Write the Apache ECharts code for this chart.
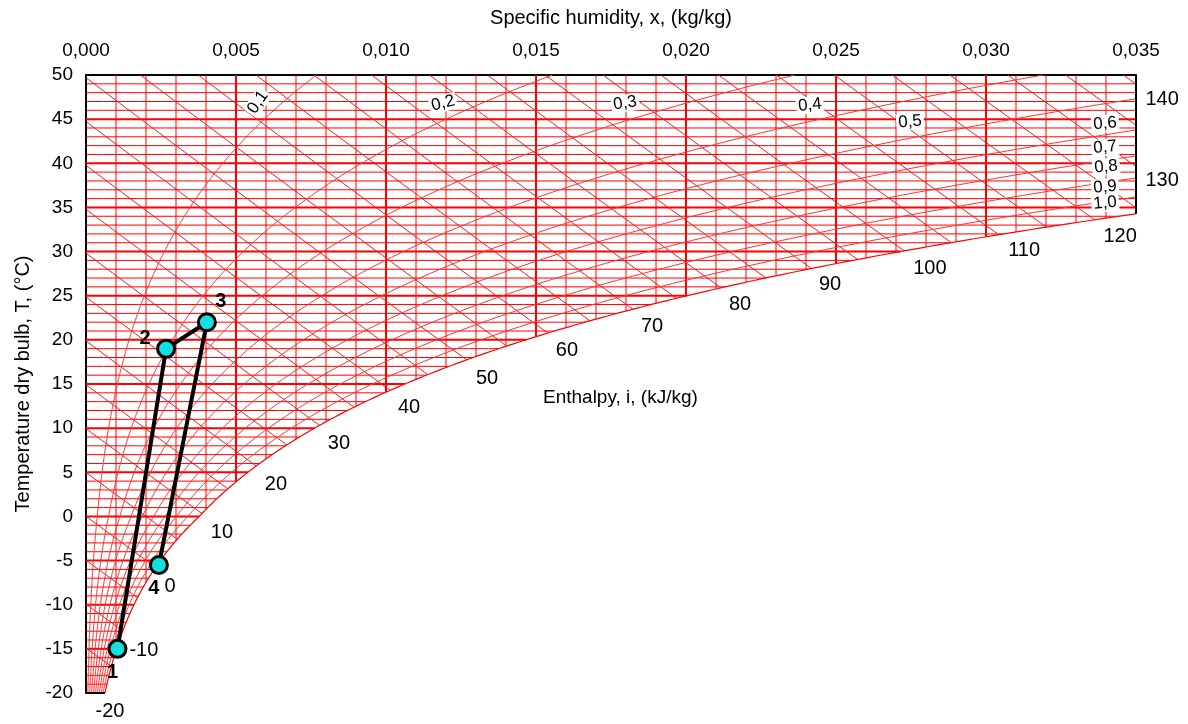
<!DOCTYPE html>
<html>
<head>
<meta charset="utf-8">
<title>Psychrometric chart</title>
<script src="https://cdn.jsdelivr.net/npm/echarts@6/dist/echarts.min.js"></script>
<style>
  html, body { margin: 0; padding: 0; background: #fff; }
  #chart { width: 1188px; height: 724px; }
</style>
</head>
<body>
<div id="chart"></div>
<script>
// axis ranges
var xMin = 0, xMax = 0.035, xStep = 0.005;
var tMin = -20, tMax = 50, tStep = 5;
var pressure = 101.325; // kPa

// cycle
var cycleNames = ['1', '2', '3', '4'];
var cycleX = [0.00105, 0.00267, 0.00403, 0.00243];
var cycleT = [-15, 19, 22, -5.5];

// relative humidity curves and their labels
var rhLevels = [0.1, 0.2, 0.3, 0.4, 0.5, 0.6, 0.7, 0.8, 0.9];
var rhLabels = ['0,1', '0,2', '0,3', '0,4', '0,5', '0,6', '0,7', '0,8', '0,9', '1,0'];
var rhLabelX = [0.00573, 0.01190, 0.01797, 0.02413, 0.02747, 0.03397, 0.03397, 0.03400, 0.03397, 0.03397];
var rhLabelT = [46.9, 46.8, 46.8, 46.6, 44.7, 44.5, 41.8, 39.6, 37.3, 35.5];
var rhLabelRot = [55, 14, 8, 6, 5, 5, 5, 5, 5, 5];

// enthalpy lines (kJ/kg) and labels
var enthalpyLevels = [];
for (var e = -20; e <= 140; e += 5) enthalpyLevels.push(e);
var enthalpyLabels = [-20, -10, 0, 10, 20, 30, 40, 50, 60, 70, 80, 90, 100, 110, 120, 130, 140];
var enthalpyLabelX = [0.0008, 0.00193, 0.0028, 0.00453, 0.00633, 0.00843, 0.01077, 0.01337, 0.01603, 0.01887, 0.0218, 0.0248, 0.02813, 0.03127, 0.03447, 0.03587, 0.03587];
var enthalpyLabelT = [-22.15, -15.13, -7.99, -1.87, 3.57, 8.21, 12.29, 15.68, 18.74, 21.46, 23.95, 26.22, 28.03, 30.07, 31.66, 38.0, 47.2];

var font = 'Liberation Sans, Arial, sans-serif';

// saturation pressure, kPa (water above 0, ice below)
function psat(T) {
  if (T >= 0) return 0.61094 * Math.exp(17.625 * T / (T + 243.04));
  return 0.61115 * Math.exp(22.452 * T / (272.55 + T));
}
function xRh(T, phi) {
  var pv = phi * psat(T);
  return 0.622 * pv / (pressure - pv);
}
function tEnthalpy(i, x) {
  return (i - 2501 * x) / (1.006 + 1.86 * x);
}
function inside(p) {
  return p[0] >= -1e-12 && p[0] <= xMax + 1e-12 && p[1] >= tMin - 1e-9 && p[1] <= tMax + 1e-9 && p[0] <= xRh(p[1], 1) + 1e-12;
}
// sample a curve and keep only the parts inside the chart area
function clipCurve(f, t0, t1, n) {
  var segs = [], cur = null, prevIn = false, prevT = t0;
  for (var k = 0; k <= n; k++) {
    var t = t0 + (t1 - t0) * k / n;
    var p = f(t), ins = inside(p);
    if (k > 0 && ins !== prevIn) {
      var a = prevT, b = t;
      for (var j = 0; j < 40; j++) {
        var m = (a + b) / 2;
        if (inside(f(m)) === prevIn) a = m; else b = m;
      }
      var edge = f(ins ? b : a);
      if (ins) {
        cur = [edge];
      } else {
        cur.push(edge);
        if (cur.length > 1) segs.push({ coords: cur });
        cur = null;
      }
    }
    if (ins) { if (!cur) cur = []; cur.push(p); }
    prevIn = ins; prevT = t;
  }
  if (cur && cur.length > 1) segs.push({ coords: cur });
  return segs;
}

var thinLines = [], thickLines = [], rhLines = [], enthLines = [];
// horizontal lines every 1 °C
for (var T = tMin + 1; T < tMax; T++) {
  (function (tt) {
    var segs = clipCurve(function (x) { return [x, tt]; }, xMin, xMax, 60);
    if (tt % 5 === 0) thickLines = thickLines.concat(segs); else thinLines = thinLines.concat(segs);
  })(T);
}
// vertical lines every 0.001
for (var k = 1; k < 35; k++) {
  (function (kk) {
    var xv = kk * 0.001;
    var segs = clipCurve(function (t) { return [xv, t]; }, tMin, tMax, 140);
    if (kk % 5 === 0) thickLines = thickLines.concat(segs); else thinLines = thinLines.concat(segs);
  })(k);
}
enthalpyLevels.forEach(function (i) {
  enthLines = enthLines.concat(clipCurve(function (x) { return [x, tEnthalpy(i, x)]; }, xMin, xMax, 400));
});
rhLevels.forEach(function (phi) {
  rhLines = rhLines.concat(clipCurve(function (t) { return [xRh(t, phi), t]; }, tMin, tMax, 400));
});
var satLine = clipCurve(function (t) { return [xRh(t, 1) - 1e-12, t]; }, tMin, tMax, 400);

// right and bottom frame pieces
var tSatRight = tMin, tHi = tMax;
for (var j = 0; j < 60; j++) {
  var mid = (tSatRight + tHi) / 2;
  if (xRh(mid, 1) < xMax) tSatRight = mid; else tHi = mid;
}
var frame = [
  { coords: [[xMax, tMax], [xMax, tSatRight]] },
  { coords: [[xMin, tMin], [xRh(tMin, 1), tMin]] }
];

function linesSeries(data, color, width, z) {
  return {
    type: 'lines', coordinateSystem: 'cartesian2d', polyline: true,
    silent: true, animation: false, z: z,
    lineStyle: { color: color, width: width, opacity: 1 },
    data: data
  };
}

var rhLabelData = rhLabels.map(function (s, n) {
  return {
    value: [rhLabelX[n], rhLabelT[n]], name: s,
    label: { rotate: rhLabelRot[n] }
  };
});
var enthLabelData = enthalpyLabels.map(function (v, n) {
  return { value: [enthalpyLabelX[n], enthalpyLabelT[n]], name: String(v) };
});
var pointOffsets = [[-5, 24], [-21, -10], [14, -21], [-5, 23]];
var cycleData = cycleNames.map(function (s, n) {
  return {
    value: [cycleX[n], cycleT[n]], name: s,
    label: { offset: pointOffsets[n] }
  };
});

var chart = echarts.init(document.getElementById('chart'), null, { renderer: 'canvas' });
chart.setOption({
  animation: false,
  backgroundColor: '#fff',
  textStyle: { fontFamily: font },
  grid: { left: 86, top: 75, right: 52, bottom: 31, containLabel: false },
  xAxis: {
    type: 'value', position: 'top', min: xMin, max: xMax, interval: xStep,
    name: 'Specific humidity, x, (kg/kg)', nameLocation: 'middle', nameGap: 47,
    nameTextStyle: { fontSize: 20, color: '#000', fontFamily: font },
    axisLine: { show: true, onZero: false, lineStyle: { color: '#000', width: 2 } },
    axisTick: { show: false },
    splitLine: { show: false },
    axisLabel: {
      fontSize: 19, color: '#000', margin: 15, fontFamily: font,
      formatter: function (v) { return v.toFixed(3).replace('.', ','); }
    }
  },
  yAxis: {
    type: 'value', min: tMin, max: tMax, interval: tStep,
    name: 'Temperature dry bulb, T, (°C)', nameLocation: 'middle', nameGap: 53,
    nameTextStyle: { fontSize: 20, color: '#000', fontFamily: font },
    axisLine: { show: true, onZero: false, lineStyle: { color: '#000', width: 2 } },
    axisTick: { show: false },
    splitLine: { show: false },
    axisLabel: { fontSize: 19, color: '#000', margin: 13, fontFamily: font }
  },
  graphic: [{
    type: 'text', left: 543, top: 388,
    style: { text: 'Enthalpy, i, (kJ/kg)', fontSize: 19, fill: '#000', fontFamily: font }
  }],
  series: [
    linesSeries(thinLines, '#ff0000', 1, 2),
    linesSeries(thickLines, '#ff0000', 2, 3),
    linesSeries(enthLines, '#ff1010', 1, 3),
    linesSeries(rhLines, '#ff3030', 1, 3),
    linesSeries(satLine, '#ff0000', 1.2, 4),
    linesSeries(frame, '#000', 2, 5),
    {
      type: 'scatter', symbolSize: 0, silent: true, clip: false, z: 6,
      itemStyle: { opacity: 1 },
      label: {
        show: true, position: 'inside', formatter: '{b}', fontSize: 17, color: '#000',
        fontFamily: font, backgroundColor: '#fff', padding: [0, 2]
      },
      data: rhLabelData
    },
    {
      type: 'scatter', symbolSize: 0, silent: true, clip: false, z: 6,
      itemStyle: { opacity: 1 },
      label: { show: true, position: 'inside', formatter: '{b}', fontSize: 20, color: '#000', fontFamily: font },
      data: enthLabelData
    },
    {
      type: 'line', silent: true, clip: false, z: 10,
      symbol: 'circle', symbolSize: 17,
      lineStyle: { color: '#000', width: 4 },
      itemStyle: { color: '#12e0e0', borderColor: '#000', borderWidth: 3, opacity: 1 },
      label: { show: true, position: 'inside', formatter: '{b}', fontSize: 20, fontWeight: 'bold', color: '#000', fontFamily: font },
      data: cycleData
    }
  ]
});
</script>
</body>
</html>
